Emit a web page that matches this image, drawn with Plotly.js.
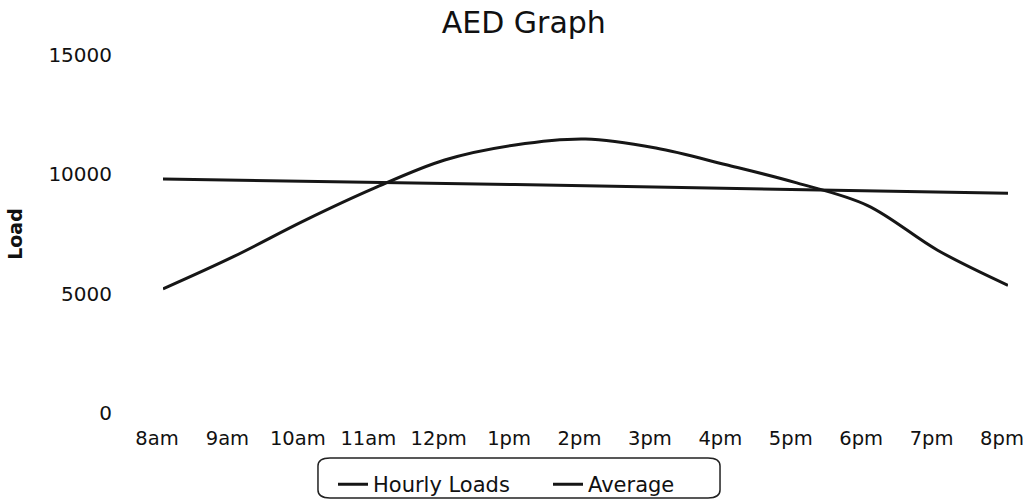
<!DOCTYPE html>
<html>
<head>
<meta charset="utf-8">
<script src="https://cdn.plot.ly/plotly-3.0.1.min.js"></script>
<style>html,body{margin:0;padding:0;background:#fff;}#chart{width:1027px;height:503px;}</style>
</head>
<body>
<div id="chart"></div>
<script>
const hours = ["8am","9am","10am","11am","12pm","1pm","2pm","3pm","4pm","5pm","6pm","7pm","8pm"];
const hourlyLoads = [5200, 6550, 8050, 9420, 10600, 11230, 11480, 11100, 10400, 9640, 8700, 6820, 5350];
const averageLoad = [9800, 9760, 9720, 9680, 9630, 9570, 9520, 9470, 9420, 9380, 9330, 9270, 9210];
const yTicks = [0, 5000, 10000, 15000];

const lineColor = "#161616";
const traces = [
  {x: hours, y: hourlyLoads, name: "Hourly Loads", type: "scatter", mode: "lines",
   line: {color: lineColor, width: 3, shape: "spline", smoothing: 1}},
  {x: hours, y: averageLoad, name: "Average", type: "scatter", mode: "lines",
   line: {color: lineColor, width: 3}}
];

const layout = {
  width: 1027, height: 503,
  paper_bgcolor: "#fff", plot_bgcolor: "#fff",
  margin: {l: 163, r: 19, t: 55, b: 90, autoexpand: false},
  font: {family: "DejaVu Sans, sans-serif", color: "#111"},
  title: {text: "AED Graph", x: 0.51, xanchor: "center", y: 0.955, yanchor: "middle",
          font: {size: 30, family: "DejaVu Sans, sans-serif", color: "#111"}},
  xaxis: {type: "category", range: [0, 12], showgrid: false, zeroline: false, showline: false,
          ticks: "", tickfont: {size: 19.5, color: "#111"}, ticklabelstandoff: 11,
          ticklabelshift: -6},
  yaxis: {range: [0, 15000], tickvals: yTicks, ticktext: yTicks.map(String),
          showgrid: false, zeroline: false, showline: false, ticks: "",
          tickfont: {size: 20, color: "#111"}, ticklabelstandoff: 50,
          title: {text: "<b>Load</b>", standoff: 20, font: {size: 19, color: "#111"}}},
  showlegend: true,
  legend: {orientation: "h", x: 0.2012, xanchor: "left", y: -0.2, yanchor: "middle",
           font: {size: 21, color: "#111"}, bgcolor: "rgba(0,0,0,0)", borderwidth: 0,
           traceorder: "normal", entrywidth: 170, entrywidthmode: "pixels"},
  shapes: [{
    type: "path", xref: "paper", yref: "paper", layer: "below",
    path: "M 0.1976,-0.1257 L 0.6450,-0.1257 Q 0.6592,-0.1257 0.6592,-0.1480 L 0.6592,-0.2151 Q 0.6592,-0.2374 0.6450,-0.2374 L 0.1976,-0.2374 Q 0.1834,-0.2374 0.1834,-0.2151 L 0.1834,-0.1480 Q 0.1834,-0.1257 0.1976,-0.1257 Z",
    line: {color: "#222", width: 1.5}, fillcolor: "rgba(0,0,0,0)"
  }]
};

Plotly.newPlot("chart", traces, layout, {displayModeBar: false, staticPlot: true});
</script>
</body>
</html>
